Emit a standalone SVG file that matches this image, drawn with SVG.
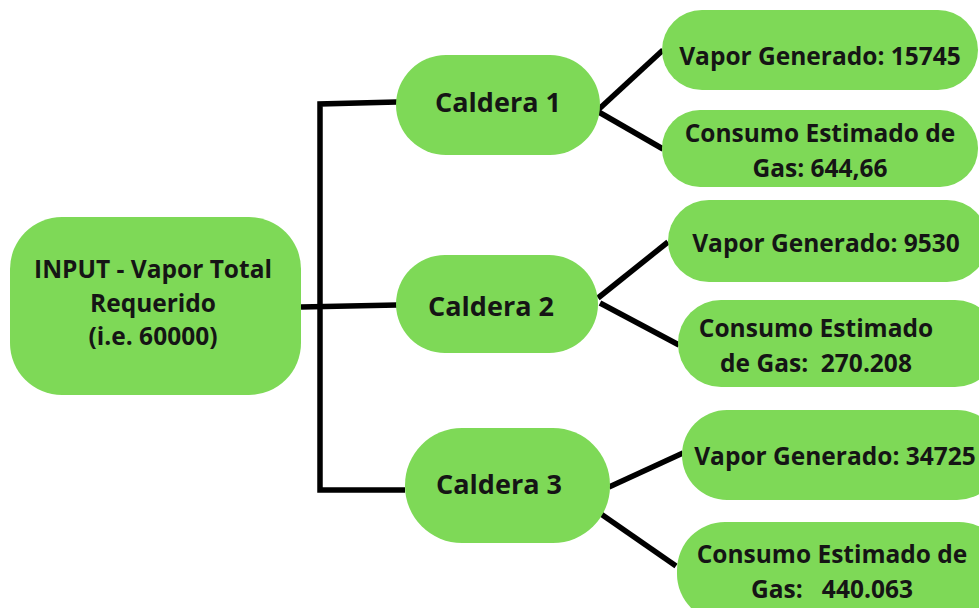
<svg xmlns="http://www.w3.org/2000/svg" width="979" height="608" viewBox="0 0 979 608">
<style>
.n{fill:#7ED957}
.t{font-family:"Open Sans",sans-serif;font-weight:bold;fill:#151515;text-anchor:middle}
.s{font-size:24.5px}
.m{font-size:27px}
.c{stroke:#000;stroke-width:5.5;fill:none;stroke-linecap:butt}
</style>
<rect width="979" height="608" fill="#fff"/>
<g id="connectors">
<polyline class="c" points="397,102 320,104 320,490 405,490"/>
<line class="c" x1="301" y1="307" x2="397" y2="305"/>
<line class="c" x1="599" y1="109" x2="663" y2="50"/>
<line class="c" x1="597" y1="111" x2="663" y2="149"/>
<line class="c" x1="598" y1="298" x2="668" y2="242"/>
<line class="c" x1="600" y1="303" x2="679" y2="345"/>
<line class="c" x1="609" y1="487" x2="683" y2="453"/>
<line class="c" x1="601" y1="514" x2="676" y2="566"/>
</g>
<g id="input">
<rect class="n" x="10" y="217" width="291" height="178" rx="52"/>
<text class="t s" x="153" y="278">INPUT - Vapor Total</text>
<text class="t s" x="153" y="312">Requerido</text>
<text class="t s" x="153" y="345">(i.e. 60000)</text>
</g>
<g id="caldera1">
<rect class="n" x="396" y="55" width="204" height="100" rx="50"/>
<text class="t m" x="498" y="112">Caldera 1</text>
</g>
<g id="caldera2">
<rect class="n" x="396" y="255" width="202" height="98" rx="49"/>
<text class="t m" x="491" y="316">Caldera 2</text>
</g>
<g id="caldera3">
<rect class="n" x="405" y="428" width="205" height="115" rx="57"/>
<text class="t m" x="499" y="494">Caldera 3</text>
</g>
<g id="vapor1">
<rect class="n" x="662" y="10" width="316" height="80" rx="40"/>
<text class="t s" x="820" y="65">Vapor Generado: 15745</text>
</g>
<g id="gas1">
<rect class="n" x="662" y="110" width="316" height="77" rx="38"/>
<text class="t s" x="820" y="142">Consumo Estimado de</text>
<text class="t s" x="820" y="177">Gas: 644,66</text>
</g>
<g id="vapor2">
<rect class="n" x="668" y="200" width="320" height="82" rx="41"/>
<text class="t s" x="826" y="252">Vapor Generado: 9530</text>
</g>
<g id="gas2">
<rect class="n" x="678" y="300" width="320" height="87" rx="43"/>
<text class="t s" x="816" y="337">Consumo Estimado</text>
<text class="t s" x="816" y="372" xml:space="preserve">de Gas:  270.208</text>
</g>
<g id="vapor3">
<rect class="n" x="682" y="410" width="320" height="90" rx="45"/>
<text class="t s" x="835" y="465">Vapor Generado: 34725</text>
</g>
<g id="gas3">
<rect class="n" x="677" y="522" width="330" height="100" rx="48"/>
<text class="t s" x="832" y="563">Consumo Estimado de</text>
<text class="t s" x="832" y="598" xml:space="preserve">Gas:   440.063</text>
</g>
</svg>
